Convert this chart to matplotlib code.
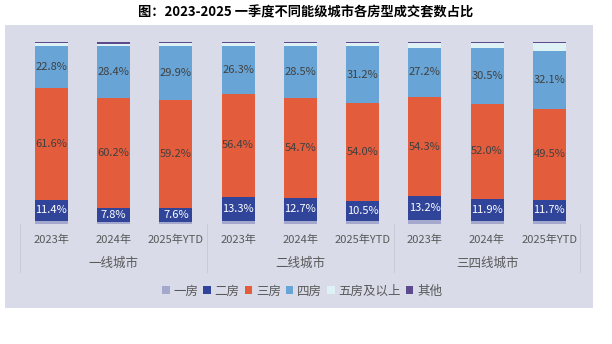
import matplotlib
matplotlib.use("Agg")
import matplotlib.pyplot as plt
from matplotlib.patches import Rectangle
from matplotlib.lines import Line2D
import numpy as np

plt.rcParams['font.family'] = ['Noto Sans CJK SC', 'DejaVu Sans']

groups = ["一线城市", "二线城市", "三四线城市"]
years = ["2023年", "2024年", "2025年YTD"]
series_names = ["一房", "二房", "三房", "四房", "五房及以上", "其他"]

one_room = [1.8, 1.2, 1.2, 1.7, 1.8, 1.9, 2.1, 1.9, 1.7]
two_room = [11.4, 7.8, 7.6, 13.3, 12.7, 10.5, 13.2, 11.9, 11.7]
three_room = [61.6, 60.2, 59.2, 56.4, 54.7, 54.0, 54.3, 52.0, 49.5]
four_room = [22.8, 28.4, 29.9, 26.3, 28.5, 31.2, 27.2, 30.5, 32.1]
five_plus = [1.5, 1.1, 1.5, 1.7, 1.7, 1.8, 2.6, 3.2, 4.5]
other = [0.9, 1.3, 0.6, 0.6, 0.6, 0.6, 0.6, 0.5, 0.5]

colors = ["#a3a8cc", "#30459a", "#e35d3d", "#68a5d6", "#def1f5", "#5c4a8c"]
bg = "#d9dbe9"

fig = plt.figure(figsize=(6.12, 3.44), dpi=100)
fig.patch.set_facecolor("white")
W, H = 612, 344

bgax = fig.add_axes([5 / W, (H - 308) / H, 588 / W, 283 / H], zorder=-5)
bgax.set_facecolor(bg)
bgax.set_xticks([])
bgax.set_yticks([])
for s in bgax.spines.values():
    s.set_visible(False)

ax = fig.add_axes([20.2 / W, (H - 224) / H, (580.4 - 20.2) / W, (224 - 41.7) / H], zorder=1)
ax.set_facecolor("none")

data = np.array([one_room, two_room, three_room, four_room, five_plus, other])
data = data / data.sum(axis=0) * 100
x = np.arange(len(one_room))
bottom = np.zeros(len(x))
for i, (name, vals) in enumerate(zip(series_names, data)):
    ax.bar(x, vals, 0.53, bottom=bottom, color=colors[i], label=name, zorder=2)
    if i in (1, 2, 3):
        raw = [two_room, three_room, four_room][i - 1]
        for xi, b, v, r in zip(x, bottom, vals, raw):
            ax.text(xi, b + v / 2, f"{r:.1f}%", ha="center", va="center",
                    fontsize=8, color="white" if i == 1 else "#404040", zorder=3)
    bottom += vals

ax.set_xlim(-0.5, 8.5)
ax.set_ylim(0, 100)
for s in ax.spines.values():
    s.set_visible(False)
ax.set_xticks([])
ax.set_yticks([])
ax.axhline(0, color="#c8cad6", lw=0.8, zorder=1)

# tick labels
tick_labels = years * len(groups)
for xi, lab in zip(x, tick_labels):
    ax.text(xi, -8.5, lab, ha="center", va="center", fontsize=8, color="#595959",
            clip_on=False)
for gi, g in enumerate(groups):
    ax.text(gi * 3 + 1, -21.5, g, ha="center", va="center", fontsize=9,
            color="#595959", clip_on=False)
for b in [-0.5, 2.5, 5.5, 8.5]:
    ax.add_line(Line2D([b, b], [0, -26.5], color="#c8cad6", lw=0.7,
                       clip_on=False))

fig.text(0.5, (H - 12) / H, "图：2023-2025 一季度不同能级城市各房型成交套数占比",
         ha="center", va="center", fontsize=9.5, fontweight="bold", color="black")

handles = [Rectangle((0, 0), 1, 1, facecolor=c, edgecolor="none") for c in colors]
fig.legend(handles, series_names, loc="center", bbox_to_anchor=(302 / W, (H - 291) / H),
           ncol=6, frameon=False, fontsize=9, handlelength=0.6, handleheight=0.6,
           handletextpad=0.3, columnspacing=0.4, labelcolor="#595959")

fig.savefig("out.png", dpi=100, facecolor="white")
